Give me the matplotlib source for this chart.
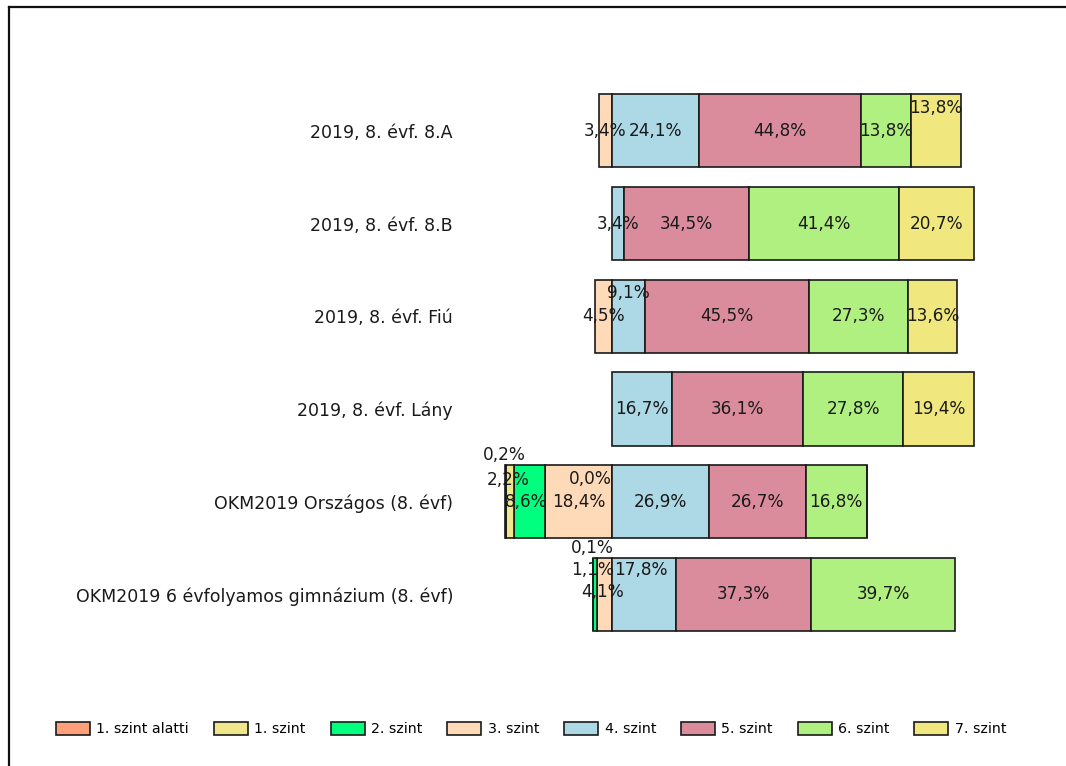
import numpy as np
import matplotlib
matplotlib.use("Agg")
import matplotlib.pyplot as plt
from matplotlib.lines import Line2D
from matplotlib.patches import Patch

# ---------------- data ----------------
categories = [
    "2019, 8. évf. 8.A",
    "2019, 8. évf. 8.B",
    "2019, 8. évf. Fiú",
    "2019, 8. évf. Lány",
    "OKM2019 Országos (8. évf)",
    "OKM2019 6 évfolyamos gimnázium (8. évf)",
]
levels = ["1. szint alatti", "1. szint", "2. szint", "3. szint",
          "4. szint", "5. szint", "6. szint", "7. szint"]
nan = np.nan
below1 = [nan, nan, nan, nan, 0.2, nan]
lvl1 = [nan, nan, nan, nan, 2.2, 0.1]
lvl2 = [nan, nan, nan, nan, 8.6, 1.1]
lvl3 = [3.4, nan, 4.5, nan, 18.4, 4.1]
lvl4 = [24.1, 3.4, 9.1, 16.7, 26.9, 17.8]
lvl5 = [44.8, 34.5, 45.5, 36.1, 26.7, 37.3]
lvl6 = [13.8, 41.4, 27.3, 27.8, 16.8, 39.7]
lvl7 = [13.8, 20.7, 13.6, 19.4, 0.0, nan]
series = [below1, lvl1, lvl2, lvl3, lvl4, lvl5, lvl6, lvl7]

colors = ["#FFA07A", "#F0E68C", "#00FF7F", "#FFDAB9",
          "#ADD8E6", "#DB8C9C", "#B0F080", "#F0E87E"]

# label displacement (pixels) for crowded labels: (row, level) -> (dx, dy)
label_shift = {
    (0, 7): (0, -23),
    (2, 4): (0, -23),
    (4, 0): (-1, -47),
    (4, 1): (-2, -22),
    (4, 2): (-3, 0),
    (4, 7): (-21, -23),
    (5, 1): (0, -46),
    (5, 2): (-2, -24),
    (5, 3): (-2, -2),
    (5, 4): (-3, -24),
}

# ---------------- figure ----------------
W, H, DPI = 1066, 766, 100
fig = plt.figure(figsize=(W / DPI, H / DPI), dpi=DPI)
fig.patch.set_facecolor("white")

# axes placement in pixels
ax_l, ax_r = 470, 1000
ax_t, ax_b = 84.5, 640.6
zero_px, px_per_unit = 611.7, 3.62
ax = fig.add_axes([ax_l / W, (H - ax_b) / H, (ax_r - ax_l) / W, (ax_b - ax_t) / H])
ax.set_xlim(-(zero_px - ax_l) / px_per_unit, (ax_r - zero_px) / px_per_unit)
ax.set_ylim(len(categories) - 0.5, -0.5)

bar_h = 0.79
y = np.arange(len(categories))
edge = "#1a1a1a"

for r in range(len(categories)):
    # negative side: levels 3,2,1,0 going left from zero
    pos_left = 0.0
    anchors = {}
    for lv in [3, 2, 1, 0]:
        v = series[lv][r]
        if np.isnan(v):
            continue
        ax.barh(y[r], -v, left=pos_left, height=bar_h, color=colors[lv],
                edgecolor=edge, linewidth=1.2, zorder=2)
        anchors[lv] = (pos_left - v / 2.0) if v > 0 else 0.0
        pos_left -= v
    pos_right = 0.0
    for lv in [4, 5, 6, 7]:
        v = series[lv][r]
        if np.isnan(v):
            continue
        ax.barh(y[r], v, left=pos_right, height=bar_h, color=colors[lv],
                edgecolor=edge, linewidth=1.2, zorder=2)
        anchors[lv] = (pos_right + v / 2.0) if v > 0 else 0.0
        pos_right += v
    for lv, xc in anchors.items():
        v = series[lv][r]
        dx, dy = label_shift.get((r, lv), (0, 0))
        txt = f"{v:.1f}%".replace(".", ",")
        ax.annotate(txt, xy=(xc, y[r]), xytext=(dx * 0.72, -dy * 0.72),
                    textcoords="offset points", ha="center", va="center",
                    fontsize=12.2, color="#1a1a1a", zorder=5,
                    family="DejaVu Sans")

ax.set_yticks(y)
ax.set_yticklabels(categories, fontsize=12.5, color="#1a1a1a", family="DejaVu Sans")
ax.tick_params(axis="y", length=0, pad=(ax_l - 453) * 0.72)
ax.set_xticks([])
for s in ax.spines.values():
    s.set_visible(False)
ax.patch.set_alpha(0)

# legend
fs_leg = 10.2
fs_px = fs_leg / 72 * DPI
handles = [Patch(facecolor=c, edgecolor=edge, linewidth=1.2) for c in colors]
fig.legend(handles, levels, loc="center left",
           bbox_to_anchor=(56 / W, (H - 729) / H), ncol=8, frameon=False,
           handlelength=34 / fs_px, handleheight=14 / fs_px,
           handletextpad=6.5 / fs_px, columnspacing=24.8 / fs_px,
           borderpad=0, borderaxespad=0,
           prop={"family": "DejaVu Sans", "size": fs_leg})

# outer frame (left and top edges visible)
fig.add_artist(Line2D([8.5 / W, 8.5 / W], [0, (H - 6.5) / H],
                      transform=fig.transFigure, color="#111111", lw=1.6))
fig.add_artist(Line2D([8.5 / W, 1], [(H - 6.5) / H, (H - 6.5) / H],
                      transform=fig.transFigure, color="#111111", lw=1.6))

fig.savefig("out.png", dpi=DPI, facecolor="white")
